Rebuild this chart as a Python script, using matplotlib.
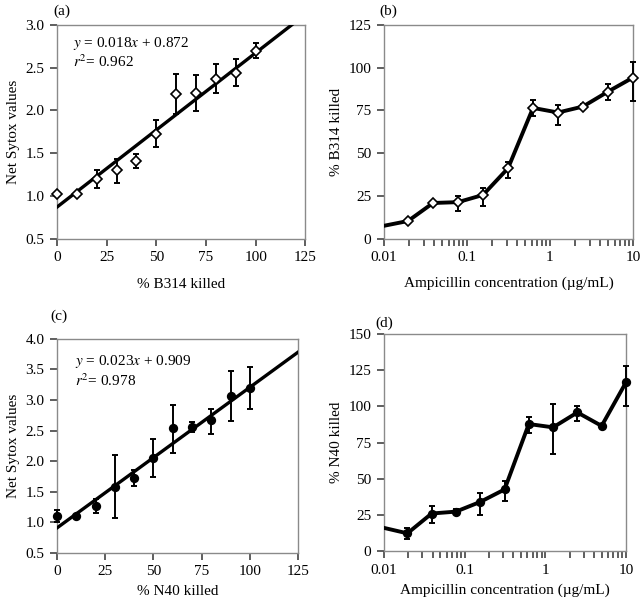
import matplotlib
matplotlib.use('Agg')
import matplotlib.pyplot as plt
import numpy as np
from matplotlib.ticker import LogLocator, NullFormatter, FixedLocator

plt.rcParams['font.family'] = ['Liberation Serif', 'DejaVu Serif']
plt.rcParams['mathtext.fontset'] = 'stix'
plt.rcParams['font.size'] = 11

# ---- panel (a): Sytox vs % B314 killed ----
killed = [0, 10, 20, 30, 40, 50, 60, 70, 80, 90, 100]
sytox_b = [1.03, 1.03, 1.20, 1.30, 1.41, 1.72, 2.19, 2.20, 2.37, 2.44, 2.70]
sytox_b_lo = [0.0, 0.0, 0.10, 0.15, 0.08, 0.15, 0.23, 0.21, 0.17, 0.16, 0.09]
sytox_b_hi = [0.0, 0.0, 0.11, 0.13, 0.08, 0.17, 0.23, 0.21, 0.17, 0.16, 0.09]
fit_b = (0.018, 0.872)

# ---- panel (c): Sytox vs % N40 killed ----
sytox_n = [1.10, 1.10, 1.27, 1.57, 1.73, 2.06, 2.55, 2.56, 2.67, 3.07, 3.19]
sytox_n_lo = [0.10, 0.0, 0.12, 0.50, 0.13, 0.32, 0.41, 0.08, 0.22, 0.41, 0.33]
sytox_n_hi = [0.10, 0.0, 0.12, 0.53, 0.12, 0.31, 0.37, 0.08, 0.19, 0.40, 0.35]
fit_n = (0.023, 0.909)

# ---- panels (b), (d): kill curves vs ampicillin ----
amp = [0.00977, 0.0195, 0.039, 0.078, 0.156, 0.3125, 0.625, 1.25, 2.5, 5.0, 10.0]
kill_b = [7.6, 10.5, 21.0, 21.5, 25.7, 41.3, 76.5, 73.8, 77.3, 86.0, 94.2]
kill_b_lo = [0, 1.0, 1.0, 5.4, 6.2, 5.9, 5.0, 7.2, 1.5, 4.8, 13.6]
kill_b_hi = [0, 1.0, 1.0, 3.7, 4.3, 3.5, 4.7, 4.5, 1.5, 4.3, 9.0]
kill_n = [16.2, 12.3, 26.0, 27.3, 34.0, 42.6, 87.8, 85.5, 95.8, 86.5, 116.5]
kill_n_lo = [0, 3.8, 6.6, 1.5, 8.8, 7.9, 6.0, 18.5, 5.7, 0, 16.2]
kill_n_hi = [0, 3.7, 5.2, 1.5, 6.2, 5.7, 4.6, 16.2, 4.5, 0, 11.1]

fig = plt.figure(figsize=(6.4, 6.05), dpi=100)
ax_a = fig.add_axes([0.089, 0.605, 0.388, 0.354])
ax_b = fig.add_axes([0.600, 0.605, 0.389, 0.354])
ax_c = fig.add_axes([0.089, 0.086, 0.377, 0.354])
ax_d = fig.add_axes([0.600, 0.089, 0.378, 0.359])


def style(ax):
    for s in ax.spines.values():
        s.set_color('#8a8a8a')
        s.set_linewidth(1.0)
    ax.tick_params(which='both', direction='out', length=5, width=1.1,
                   color='#333333', labelsize=11, pad=4)


def scatter_panel(ax, y, lo, hi, fit, marker, face, ylim, yticks, xlabel, eq, r2, tx, ty):
    style(ax)
    ax.errorbar(killed, y, yerr=[lo, hi], fmt='none', ecolor='black',
                elinewidth=1.4, capsize=2.2, capthick=1.4, zorder=3, clip_on=False)
    xs = np.array([0, 125])
    ax.plot(xs, fit[0] * xs + fit[1], color='black', lw=2.4, zorder=4)
    ax.plot(killed, y, ls='none', marker=marker, ms=5.0 if marker == 'D' else 5.5,
            mfc=face, mec='black', mew=1.2, zorder=5, clip_on=False)
    ax.set_xlim(0, 125)
    ax.set_ylim(*ylim)
    ax.set_xticks([0, 25, 50, 75, 100, 125])
    ax.set_yticks(yticks)
    ax.set_yticklabels([f'{t:.1f}' for t in yticks])
    ax.set_xlabel(xlabel, labelpad=10)
    ax.set_ylabel('Net Sytox values', labelpad=4)
    ax.text(tx, ty[0], eq, transform=ax.transAxes, fontsize=11, va='center')
    ax.text(tx, ty[1], r2, transform=ax.transAxes, fontsize=11, va='center')


def kill_panel(ax, y, lo, hi, marker, face, ylim, yticks, ylabel):
    style(ax)
    ax.set_xscale('log')
    ax.errorbar(amp[1:], y[1:], yerr=[lo[1:], hi[1:]], fmt='none', ecolor='black',
                elinewidth=1.4, capsize=2.2, capthick=1.4, zorder=3, clip_on=False)
    ax.plot(amp, y, color='black', lw=2.8, zorder=4)
    ax.plot(amp[1:], y[1:], ls='none', marker=marker, ms=5.0 if marker == 'D' else 5.5,
            mfc=face, mec='black', mew=1.2, zorder=5, clip_on=False)
    ax.set_xlim(0.01, 10)
    ax.set_ylim(*ylim)
    ax.set_yticks(yticks)
    ax.xaxis.set_major_locator(FixedLocator([0.01, 0.1, 1, 10]))
    ax.set_xticklabels(['0.01', '0.1', '1', '10'])
    ax.xaxis.set_minor_locator(LogLocator(base=10, subs=np.arange(2, 10)))
    ax.xaxis.set_minor_formatter(NullFormatter())
    ax.set_xlabel('Ampicillin concentration (\u00b5g/mL)', labelpad=9)
    ax.set_ylabel(ylabel, labelpad=4)


scatter_panel(ax_a, sytox_b, sytox_b_lo, sytox_b_hi, fit_b, 'D', 'white',
              (0.5, 3.0), [0.5, 1.0, 1.5, 2.0, 2.5, 3.0], '% B314 killed',
              r'$y$ = 0.018$x$ + 0.872', r'$r^2$= 0.962', 0.065, (0.911, 0.827))
scatter_panel(ax_c, sytox_n, sytox_n_lo, sytox_n_hi, fit_n, 'o', 'black',
              (0.5, 4.0), [0.5, 1.0, 1.5, 2.0, 2.5, 3.0, 3.5, 4.0], '% N40 killed',
              r'$y$ = 0.023$x$ + 0.909', r'$r^2$= 0.978', 0.075, (0.893, 0.804))
kill_panel(ax_b, kill_b, kill_b_lo, kill_b_hi, 'D', 'white',
           (0, 125), [0, 25, 50, 75, 100, 125], '% B314 killed')
kill_panel(ax_d, kill_n, kill_n_lo, kill_n_hi, 'o', 'black',
           (0, 150), [0, 25, 50, 75, 100, 125, 150], '% N40 killed')
ax_c.xaxis.labelpad = 5
ax_d.xaxis.labelpad = 5

fig.text(53 / 640, 1 - 11 / 605, '(a)', fontsize=11, va='center')
fig.text(379 / 640, 1 - 11 / 605, '(b)', fontsize=11, va='center')
fig.text(50 / 640, 1 - 316 / 605, '(c)', fontsize=11, va='center')
fig.text(375 / 640, 1 - 323 / 605, '(d)', fontsize=11, va='center')

fig.savefig('out.png', dpi=100)
